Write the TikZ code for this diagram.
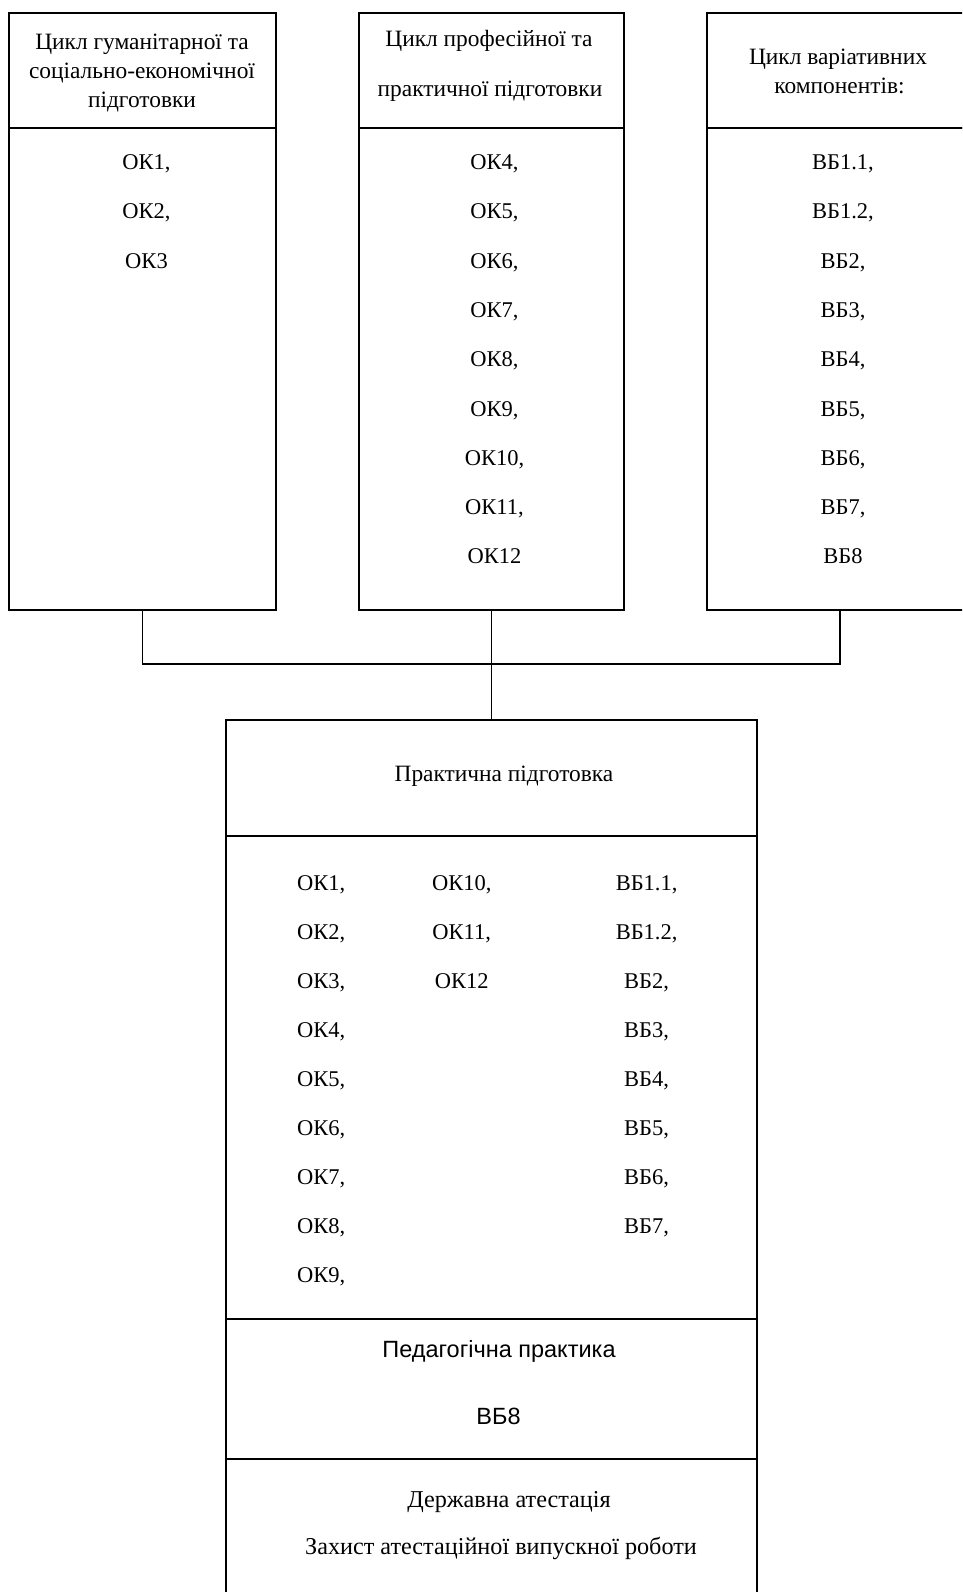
\documentclass[tikz,border=0pt]{standalone}
\usepackage{fontspec}
\setmainfont{Liberation Serif}
\newfontfamily\sansf{Liberation Sans}
\begin{document}
\begin{tikzpicture}[x=1pt,y=-1pt,
  box/.style={draw, line width=2pt, rectangle, inner sep=0pt, anchor=north west},
  conn/.style={line width=1.5pt},
  txt/.style={inner sep=0pt, anchor=base, font=\fontsize{22.5}{26}\selectfont},
  htxt/.style={txt, font=\fontsize{23.4}{28}\selectfont},
  btxt/.style={txt, font=\fontsize{24.2}{28}\selectfont},
  ltxt/.style={txt, anchor=base west},
  stxt/.style={txt, font=\sansf\fontsize{23.5}{28}\selectfont}]
\clip (0,0) rectangle (962,1592);
\fill[white] (0,0) rectangle (962,1592);
% top boxes
\node[box, minimum width=267pt, minimum height=115pt] (lh) at (8,12) {};
\node[box, minimum width=267pt, minimum height=482pt] (lb) at (8,127) {};
\node[box, minimum width=265pt, minimum height=115pt] (mh) at (358,12) {};
\node[box, minimum width=265pt, minimum height=482pt] (mb) at (358,127) {};
\node[box, minimum width=266pt, minimum height=115pt] (rh) at (706,12) {};
\node[box, minimum width=266pt, minimum height=482pt] (rb) at (706,127) {};
% bottom box
\node[box, minimum width=531pt, minimum height=116pt] (ph) at (225,719) {};
\node[box, minimum width=531pt, minimum height=482.5pt] (pb) at (225,835) {};
\node[box, minimum width=531pt, minimum height=140pt] (pp) at (225,1317.5) {};
\node[box, minimum width=531pt, minimum height=160pt] (da) at (225,1457.5) {};
% connectors
\coordinate (j) at (490.5,664);
\draw[conn] (lb.south) -- (lb.south |- j) -- (rb.south |- j) -- (rb.south);
\draw[conn] (mb.south) -- (ph.north);
% header texts
\node[htxt] (lh1) at (142,49.5) {Цикл гуманітарної та};
\node[htxt] (lh2) at (142,78.5) {соціально-економічної};
\node[htxt] (lh3) at (142,107.5) {підготовки};
\node[htxt] (mh1) at (489,47) {Цикл професійної та};
\node[htxt] (mh2) at (490,97) {практичної підготовки};
\node[htxt] (rh1) at (838,64.5) {Цикл варіативних};
\node[htxt] (rh2) at (839.5,93.5) {компонентів:};
% lists in top boxes
\foreach \t [count=\i from 0] in {{ОК1,},{ОК2,},{ОК3}}
  \node[txt] (la\i) at (146.5,{169.5+49.3*\i}) {\t};
\foreach \t [count=\i from 0] in {{ОК4,},{ОК5,},{ОК6,},{ОК7,},{ОК8,},{ОК9,},{ОК10,},{ОК11,},{ОК12}}
  \node[txt] (ma\i) at (494.5,{169.5+49.3*\i}) {\t};
\foreach \t [count=\i from 0] in {{ВБ1.1,},{ВБ1.2,},{ВБ2,},{ВБ3,},{ВБ4,},{ВБ5,},{ВБ6,},{ВБ7,},{ВБ8}}
  \node[txt] (ra\i) at (843,{169.5+49.3*\i}) {\t};
% bottom box texts
\node[htxt] (pt) at (504,781) {Практична підготовка};
\foreach \t [count=\i from 0] in {{ОК1,},{ОК2,},{ОК3,},{ОК4,},{ОК5,},{ОК6,},{ОК7,},{ОК8,},{ОК9,}}
  \node[ltxt] (pa\i) at (297,{890.3+49*\i}) {\t};
\foreach \t [count=\i from 0] in {{ОК10,},{ОК11,},{ОК12}}
  \node[txt] (pc\i) at (461.7,{890.3+49*\i}) {\t};
\foreach \t [count=\i from 0] in {{ВБ1.1,},{ВБ1.2,},{ВБ2,},{ВБ3,},{ВБ4,},{ВБ5,},{ВБ6,},{ВБ7,}}
  \node[txt] (pv\i) at (646.6,{890.3+49*\i}) {\t};
\node[stxt] (pp1) at (499,1357) {Педагогічна практика};
\node[stxt] (pp2) at (498.5,1424.5) {ВБ8};
\node[btxt] (da1) at (509,1507) {Державна атестація};
\node[btxt] (da2) at (501,1554) {Захист атестаційної випускної роботи};
\end{tikzpicture}
\end{document}
